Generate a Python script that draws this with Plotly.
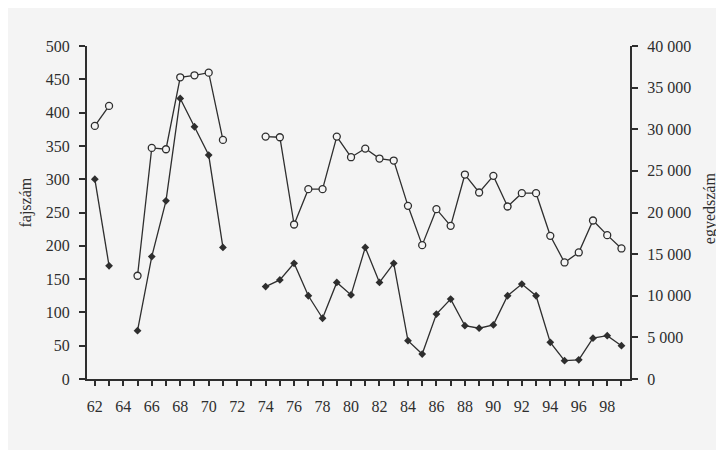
import plotly.graph_objects as go

# === adatok (évek 1962-1999, hiányzó évek: None) ===
evek = list(range(62, 100))
fajszam = [380, 410, None, 155, 347, 345, 453, 456, 460, 359, None, None,
           364, 363, 232, 285, 285, 364, 333, 346, 331, 328, 260, 201,
           255, 230, 307, 280, 305, 259, 279, 279, 215, 175, 190, 238, 216, 196]
egyedszam = [24000, 13600, None, 5800, 14700, 21400, 33700, 30300, 26900, 15800, None, None,
             11100, 11900, 13900, 10000, 7300, 11600, 10100, 15800, 11600, 13900, 4600, 3000,
             7800, 9600, 6400, 6100, 6500, 10000, 11400, 10000, 4400, 2200, 2300, 4900, 5200, 4000]

x_labels = [str(e) if (e % 2 == 0 and e < 99) else '' for e in evek]
y_left_vals = list(range(0, 501, 50))
y_right_vals = list(range(0, 40001, 5000))
y_right_text = ['0'] + [f"{v // 1000} 000" for v in y_right_vals[1:]]

ink = '#2e2e2e'
paper = '#f4f4f4'
font = dict(family='Liberation Serif, Times New Roman, serif', size=16, color=ink)

fig = go.Figure()
fig.add_trace(go.Scatter(
    x=evek, y=fajszam, mode='lines+markers', name='fajszám',
    line=dict(color=ink, width=1.3),
    marker=dict(symbol='circle', size=7, color=paper, line=dict(color=ink, width=1.3)),
    connectgaps=False
))
fig.add_trace(go.Scatter(
    x=evek, y=egyedszam, mode='lines+markers', name='egyedszám', yaxis='y2',
    line=dict(color=ink, width=1.3),
    marker=dict(symbol='diamond', size=6, color=ink),
    connectgaps=False
))

axis_common = dict(showgrid=False, zeroline=False, showline=True, linecolor=ink, linewidth=2,
                   ticks='outside', tickcolor=ink, tickwidth=1.5, tickfont=font)

# az oldal 8 px-es margóval jelenik meg, ezért kisebb méret
fig.update_layout(
    width=716, height=442,
    margin=dict(l=79, r=94, t=38, b=71),
    paper_bgcolor=paper, plot_bgcolor=paper,
    showlegend=False,
    font=font,
    xaxis=dict(range=[61.45, 99.6], tickvals=evek, ticktext=x_labels, ticklen=5,
               ticklabelstandoff=7, **axis_common),
    yaxis=dict(range=[0, 500], tickvals=y_left_vals, ticklen=6, ticklabelstandoff=6,
               **axis_common),
    yaxis2=dict(range=[0, 40000], tickvals=y_right_vals, ticktext=y_right_text,
                overlaying='y', side='right', ticklen=6, ticklabelstandoff=6,
                **axis_common),
    annotations=[
        dict(text='fajszám', xref='paper', yref='paper', x=(26 - 87) / 543, y=0.53,
             xanchor='center', yanchor='middle',
             textangle=-90, showarrow=False, font=font),
        dict(text='egyedszám', xref='paper', yref='paper', x=(710 - 87) / 543, y=0.513,
             xanchor='center', yanchor='middle',
             textangle=-90, showarrow=False, font=font),
    ],
)

fig.write_html("out.html")
